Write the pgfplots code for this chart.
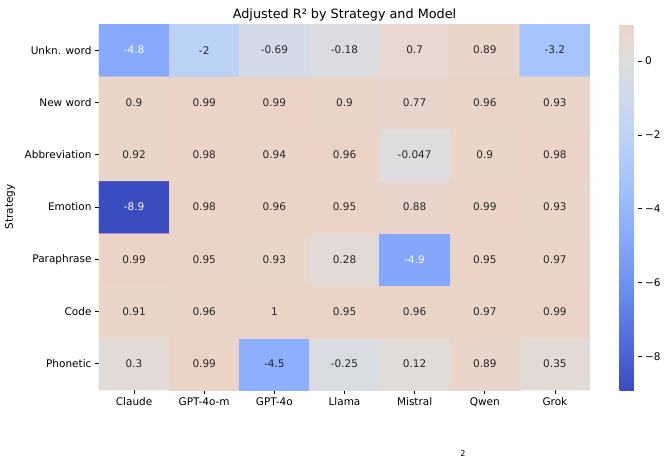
\documentclass[border=0pt]{standalone}
\usepackage{pgfplots}
\pgfplotsset{compat=1.18}
\usepackage{fontspec}
\setmainfont{DejaVu Sans}
\definecolor{annot}{RGB}{38,38,38}
\begin{document}
\begin{tikzpicture}
\useasboundingbox (0,0) rectangle (669pt,458pt);
\begin{axis}[
  at={(99pt,68pt)}, anchor=south west,
  width=491pt, height=366pt, scale only axis,
  xmin=-0.5, xmax=6.5, ymin=-0.5, ymax=6.5,
  axis line style={draw=none},
  xtick={0,1,2,3,4,5,6},
  xticklabels={Claude,GPT-4o-m,GPT-4o,Llama,Mistral,Qwen,Grok},
  ytick={0,1,2,3,4,5,6},
  yticklabels={Phonetic,Code,Paraphrase,Emotion,Abbreviation,New word,Unkn. word},
  tick pos=left, tick align=outside, major tick length=4pt,
  tick style={black, line width=0.8pt},
  ticklabel style={font=\fontsize{10.5}{12}\selectfont, black},
  title={Adjusted R² by Strategy and Model},
  title style={at={(0.5,1)}, anchor=base, yshift=0pt, font=\fontsize{12.8}{14}\selectfont},
  ylabel={Strategy},
  every axis y label/.style={at={(rel axis cs:0,0.5)}, xshift=-89pt, rotate=90, anchor=center, font=\fontsize{10.5}{12}\selectfont},
  colormap={cw}{rgb255(0pt)=(59,76,192); rgb255(312.5pt)=(68,90,204); rgb255(625pt)=(77,104,215); rgb255(937.5pt)=(87,117,225); rgb255(1250pt)=(98,130,234); rgb255(1562.5pt)=(108,142,241); rgb255(1875pt)=(119,154,247); rgb255(2187.5pt)=(130,165,251); rgb255(2500pt)=(141,176,254); rgb255(2812.5pt)=(152,185,255); rgb255(3125pt)=(163,194,255); rgb255(3437.5pt)=(174,201,253); rgb255(3750pt)=(184,208,249); rgb255(4062.5pt)=(194,213,244); rgb255(4375pt)=(204,217,238); rgb255(4687.5pt)=(213,219,230); rgb255(5000pt)=(221,221,221); rgb255(5312.5pt)=(229,216,209); rgb255(5562pt)=(235,212,199)},
  point meta min=-8.9, point meta max=1.0,
  colorbar,
  colorbar style={
    at={(parent axis.north east)}, anchor=north west, xshift=21pt,
    width=18pt, height=366pt, scale only axis,
    axis line style={draw=none},
    ytick={-8,-6,-4,-2,0},
    yticklabels={−8,−6,−4,−2,0},
    ytick pos=right,
    tick align=outside, major tick length=4pt,
    ytick style={black, line width=0.8pt},
    yticklabel style={font=\fontsize{10.5}{12}\selectfont, black},
    yticklabel pos=right,
  },
]
\addplot[matrix plot*, mesh/cols=7, point meta=explicit] table[meta=v] {
x y v
0 0 0.3
1 0 0.99
2 0 -4.5
3 0 -0.25
4 0 0.12
5 0 0.89
6 0 0.35
0 1 0.91
1 1 0.96
2 1 1
3 1 0.95
4 1 0.96
5 1 0.97
6 1 0.99
0 2 0.99
1 2 0.95
2 2 0.93
3 2 0.28
4 2 -4.9
5 2 0.95
6 2 0.97
0 3 -8.9
1 3 0.98
2 3 0.96
3 3 0.95
4 3 0.88
5 3 0.99
6 3 0.93
0 4 0.92
1 4 0.98
2 4 0.94
3 4 0.96
4 4 -0.047
5 4 0.9
6 4 0.98
0 5 0.9
1 5 0.99
2 5 0.99
3 5 0.9
4 5 0.77
5 5 0.96
6 5 0.93
0 6 -4.8
1 6 -2
2 6 -0.69
3 6 -0.18
4 6 0.7
5 6 0.89
6 6 -3.2
};
\addplot[draw=none, mark=none, nodes near coords, point meta=explicit symbolic,
  nodes near coords align=center,
  every node near coord/.append style={font=\fontsize{10.5}{12}\selectfont, text=annot, anchor=center}]
  table[meta=l] {
x y l
0 0 0.3
1 0 0.99
2 0 -4.5
3 0 -0.25
4 0 0.12
5 0 0.89
6 0 0.35
0 1 0.91
1 1 0.96
2 1 1
3 1 0.95
4 1 0.96
5 1 0.97
6 1 0.99
0 2 0.99
1 2 0.95
2 2 0.93
3 2 0.28
5 2 0.95
6 2 0.97
1 3 0.98
2 3 0.96
3 3 0.95
4 3 0.88
5 3 0.99
6 3 0.93
0 4 0.92
1 4 0.98
2 4 0.94
3 4 0.96
4 4 -0.047
5 4 0.9
6 4 0.98
0 5 0.9
1 5 0.99
2 5 0.99
3 5 0.9
4 5 0.77
5 5 0.96
6 5 0.93
1 6 -2
2 6 -0.69
3 6 -0.18
4 6 0.7
5 6 0.89
6 6 -3.2
};
\addplot[draw=none, mark=none, nodes near coords, point meta=explicit symbolic,
  nodes near coords align=center,
  every node near coord/.append style={font=\fontsize{10.5}{12}\selectfont, text=white, anchor=center}]
  table[meta=l] {
x y l
4 2 -4.9
0 3 -8.9
0 6 -4.8
};
\end{axis}
\node[font=\fontsize{8}{8}\selectfont, anchor=north, inner sep=0pt] at (463pt,8pt) {2};
\end{tikzpicture}
\end{document}
